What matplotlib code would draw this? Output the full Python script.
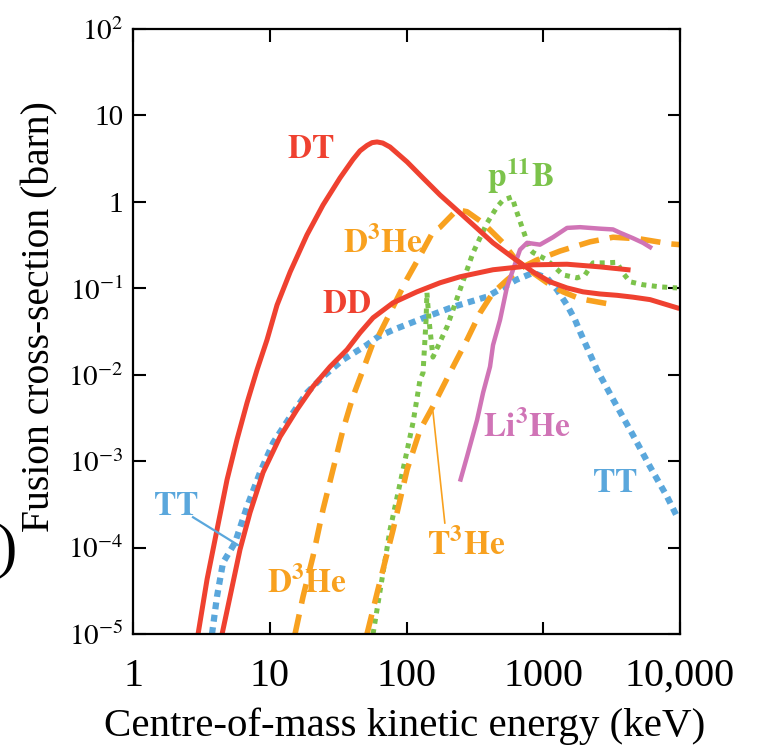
import numpy as np
import matplotlib
matplotlib.use('Agg')
import matplotlib.pyplot as plt

plt.rcParams['font.family'] = ['Liberation Serif', 'DejaVu Serif']
plt.rcParams['mathtext.fontset'] = 'stix'

# energies in keV, cross-sections in barn
dt_e = [2.99, 3.48, 4.11, 4.87, 5.76, 6.82, 8.07, 9.55, 11.3, 14.1, 18.7, 24.5, 32.6, 40.6, 45.7, 51.4, 56, 60.9, 67, 75.7, 101, 132, 176, 246, 429, 632, 841, 1120, 1492, 1954, 2600, 3460, 4530, 6040, 9510]
dt_s = [1e-5, 4.3e-5, 1.6e-4, 6.1e-4, 1.78e-3, 4.74e-3, 0.0114, 0.0254, 0.064, 0.155, 0.415, 0.92, 1.89, 3.1, 3.9, 4.5, 4.85, 4.94, 4.8, 4.32, 2.90, 1.89, 1.2, 0.746, 0.336, 0.213, 0.155, 0.119, 0.101, 0.091, 0.086, 0.083, 0.079, 0.074, 0.0595]

dd_e = [4.48, 5.12, 6.06, 7.17, 8.93, 11.9, 15.8, 20.7, 27.6, 36.7, 45.7, 56.9, 79.7, 119, 176, 246, 429, 676, 841, 1492, 2600, 4168]
dd_s = [1e-5, 2.7e-5, 9.5e-5, 2.54e-4, 7.4e-4, 1.92e-3, 3.94e-3, 7.3e-3, 0.0124, 0.0195, 0.0306, 0.0456, 0.068, 0.091, 0.116, 0.136, 0.164, 0.177, 0.187, 0.19, 0.177, 0.164]

tt_e = [3.78, 4.11, 4.55, 5.57, 6.82, 8.49, 10.6, 14.1, 18.7, 24.5, 34.3, 51.4, 61.9, 79.7, 141, 219, 388, 632, 841, 1065, 1262, 1492, 1707, 1857, 2472, 3236, 4530, 6040, 8030, 9510]
tt_s = [1e-5, 2.7e-5, 6.7e-5, 1.14e-4, 2.98e-4, 7.4e-4, 1.64e-3, 3.27e-3, 6.2e-3, 9.5e-3, 0.0149, 0.0222, 0.0275, 0.033, 0.047, 0.061, 0.080, 0.125, 0.151, 0.132, 0.096, 0.064, 0.0432, 0.0314, 0.0114, 5.2e-3, 2.0e-3, 8.6e-4, 3.9e-4, 2.28e-4]

d3he_e = [15.3, 17.5, 20.7, 24.5, 29, 34.3, 40.6, 48.1, 56.9, 61.9, 79.7, 101, 125.6, 156, 176, 234, 277, 363, 508, 632, 841, 1065, 1394, 1857, 3350]
d3he_s = [1e-5, 2.7e-5, 7.9e-5, 2.75e-4, 8e-4, 2.3e-3, 5.6e-3, 0.0114, 0.0234, 0.0275, 0.061, 0.129, 0.238, 0.45, 0.51, 0.81, 0.77, 0.57, 0.336, 0.213, 0.151, 0.116, 0.091, 0.0757, 0.064]

t3he_e = [51.4, 61.9, 79.7, 101, 125.6, 156, 219, 277, 345, 429, 543, 711, 900, 1326, 2197, 3236, 5100, 8450, 10000]
t3he_s = [1e-5, 3.3e-5, 1.6e-4, 8e-4, 2.3e-3, 4.3e-3, 0.0124, 0.0254, 0.052, 0.089, 0.125, 0.177, 0.213, 0.27, 0.345, 0.39, 0.373, 0.327, 0.32]

pb_e = [56.9, 75.7, 94.3, 111.6, 125.6, 132, 139, 141, 146, 156, 198, 246, 306, 388, 459, 508, 591, 632, 711, 800, 841, 1065, 1394, 1766, 2020, 2311, 2830, 3460, 3767, 4310, 5360, 7140, 9510]
pb_s = [1e-5, 1.6e-4, 8e-4, 2.8e-3, 8.8e-3, 0.0105, 0.0432, 0.089, 0.043, 0.016, 0.036, 0.096, 0.257, 0.57, 0.875, 1.05, 1.14, 0.81, 0.474, 0.28, 0.26, 0.213, 0.143, 0.132, 0.143, 0.197, 0.197, 0.2, 0.155, 0.119, 0.11, 0.104, 0.101]

li_e = [246, 277, 328, 363, 408, 429, 483, 543, 601, 676, 761, 946, 1178, 1492, 1857, 2600, 3236, 3641, 4530, 5360, 6240]
li_s = [5.8e-4, 1.13e-3, 3.0e-3, 6.2e-3, 0.0124, 0.022, 0.0432, 0.104, 0.164, 0.28, 0.336, 0.32, 0.39, 0.50, 0.51, 0.49, 0.48, 0.44, 0.38, 0.336, 0.29]

x_ticks = [1, 10, 100, 1000, 10000]
x_labels = ['1', '10', '100', '1000', '10,000']
y_ticks = [1e-5, 1e-4, 1e-3, 1e-2, 1e-1, 1, 10, 100]
y_labels = [r'$10^{-5}$', r'$10^{-4}$', r'$10^{-3}$', r'$10^{-2}$', r'$10^{-1}$', '1', '10', r'$10^{2}$']

red = '#ef4130'
orange = '#f8a11f'
green = '#7cc34b'
blue = '#5aa7dc'
pink = '#d074b6'

fig = plt.figure(figsize=(7.61, 7.45), dpi=100)
ax = fig.add_axes([0.1748, 0.149, 0.7188, 0.812])

ax.plot(tt_e, tt_s, color=blue, lw=4.5, linestyle=(0, (1.1, 0.9)), dash_capstyle='butt', dash_joinstyle='round')
ax.plot(pb_e, pb_s, color=green, lw=3.6, linestyle=(0, (1, 1.1)), dash_capstyle='butt', dash_joinstyle='round')
ax.plot(d3he_e, d3he_s, color=orange, lw=4, linestyle=(0, (3.6, 2)), dash_capstyle='butt', dash_joinstyle='round')
ax.plot(t3he_e, t3he_s, color=orange, lw=4, linestyle=(0, (3.6, 2)), dash_capstyle='butt', dash_joinstyle='round')
ax.plot(li_e, li_s, color=pink, lw=3.2, solid_capstyle='butt', solid_joinstyle='round')
ax.plot(dt_e, dt_s, color=red, lw=3.6, solid_joinstyle='round')
ax.plot(dd_e, dd_s, color=red, lw=3.6, solid_joinstyle='round')

ax.set_xscale('log')
ax.set_yscale('log')
ax.set_xlim(1, 10000)
ax.set_ylim(1e-5, 100)
ax.set_xticks(x_ticks)
ax.set_xticklabels(x_labels)
ax.set_yticks(y_ticks)
ax.set_yticklabels(y_labels)
ax.minorticks_off()
ax.tick_params(direction='in', length=9, width=1.5, top=True, right=True)
ax.tick_params(axis='x', labelsize=29, pad=17)
ax.tick_params(axis='y', labelsize=21, pad=7)
for s in ax.spines.values():
    s.set_linewidth(1.6)

ax.set_xlabel('Centre-of-mass kinetic energy (keV)', fontsize=29.5)
ax.xaxis.set_label_coords(0.497, -0.122)
ax.set_ylabel('Fusion cross-section (barn)', fontsize=28.5)
ax.yaxis.set_label_coords(-0.136, 0.524)

lab = dict(transform=ax.transAxes, fontsize=24, ha='left', va='baseline')
ax.text(0.2815, 0.787, r'$\mathbf{DT}$', color=red, **lab)
ax.text(0.384, 0.630, r'$\mathbf{D^{3}He}$', color=orange, **lab)
ax.text(0.3455, 0.531, r'$\mathbf{DD}$', color=red, **lab)
ax.text(0.647, 0.739, r'$\mathbf{p^{11}B}$', color=green, **lab)
ax.text(0.0366, 0.197, r'$\mathbf{TT}$', color=blue, **lab)
ax.text(0.245, 0.068, r'$\mathbf{D^{3}He}$', color=orange, **lab)
ax.text(0.640, 0.326, r'$\mathbf{Li^{3}He}$', color=pink, **lab)
ax.text(0.839, 0.235, r'$\mathbf{TT}$', color=blue, **lab)
ax.text(0.5375, 0.131, r'$\mathbf{T^{3}He}$', color=orange, **lab)

ax.plot([0.1097, 0.192], [0.193, 0.147], transform=ax.transAxes, color=blue, lw=1.6)
ax.plot([0.5484, 0.570], [0.367, 0.1835], transform=ax.transAxes, color=orange, lw=1.2)

fig.text(0.022, 0.26, ')', fontsize=44, ha='right', va='center')

fig.savefig('out.png', dpi=100)
